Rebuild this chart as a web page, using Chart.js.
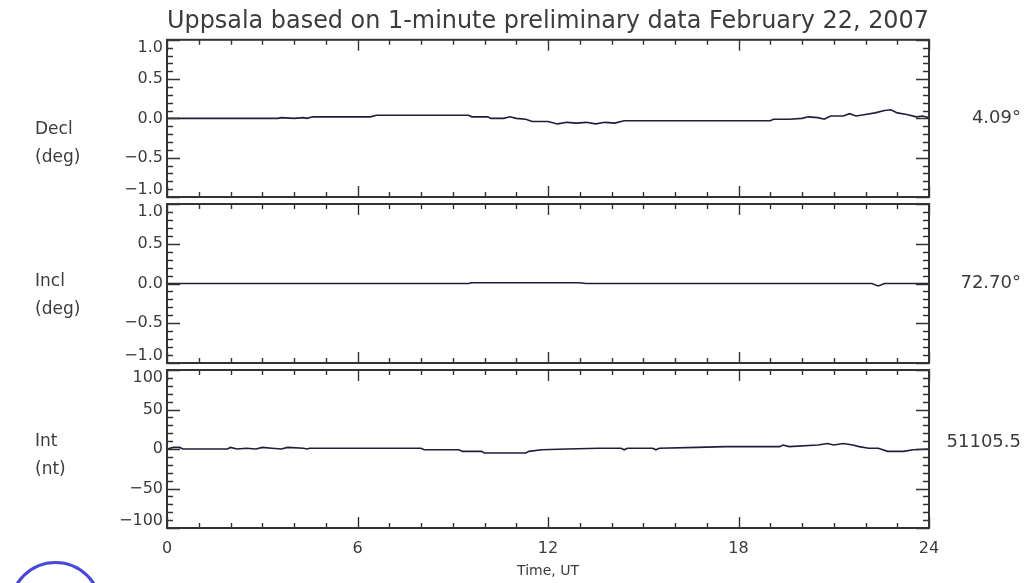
<!DOCTYPE html>
<html>
<head>
<meta charset="utf-8">
<script src="https://cdn.jsdelivr.net/npm/chart.js@4.4.1/dist/chart.umd.min.js"></script>
<style>
  body{margin:0;background:#fff;}
  #wrap{position:relative;width:1029px;height:583px;overflow:hidden;}
  #wrap canvas{position:absolute;left:0;top:0;}
  #logo{position:absolute;left:9px;top:561px;width:93px;height:93px;box-sizing:border-box;border:3px solid #4848d8;border-radius:50%;}
</style>
</head>
<body>
<div id="wrap">
  <canvas id="declChart" width="1029" height="583"></canvas>
  <canvas id="inclChart" width="1029" height="583"></canvas>
  <canvas id="intChart" width="1029" height="583"></canvas>
  <div id="logo"></div>
</div>
<script>
// hours UT
const declTime   = [0, 1, 2, 3, 3.5, 3.6, 4.0, 4.3, 4.4, 4.6, 5, 6, 6.4, 6.6, 7, 8, 9, 9.5, 9.6, 10.1,
                    10.2, 10.6, 10.8, 11.0, 11.3, 11.5, 12.0, 12.3, 12.6, 12.9, 13.2, 13.5, 13.8, 14.1, 14.4,
                    15, 16, 17, 18, 19, 19.1, 19.6, 20.0, 20.2, 20.5, 20.7, 20.9, 21.3, 21.5, 21.7,
                    22.0, 22.3, 22.6, 22.8, 23.0, 23.3, 23.6, 23.8, 24];
const declValues = [0, 0, 0, 0, 0, 0.01, 0, 0.01, 0, 0.02, 0.02, 0.02, 0.02, 0.04, 0.04, 0.04, 0.04, 0.04, 0.02, 0.02,
                    0, 0, 0.02, 0, -0.01, -0.04, -0.04, -0.07, -0.05, -0.06, -0.05, -0.07, -0.05, -0.06, -0.03,
                    -0.03, -0.03, -0.03, -0.03, -0.03, -0.01, -0.01, 0, 0.02, 0.01, -0.01, 0.03, 0.03, 0.06, 0.03,
                    0.05, 0.07, 0.10, 0.11, 0.07, 0.05, 0.02, 0.03, 0.01];

const inclTime   = [0, 9.5, 9.6, 13.0, 13.2, 22.2, 22.4, 22.6, 24];
const inclValues = [0, 0, 0.01, 0.01, 0, 0, -0.03, 0, 0];

const intTime   = [0, 0.2, 0.4, 0.5, 1.9, 2.0, 2.2, 2.5, 2.8, 3.0, 3.3, 3.6, 3.8, 4.3, 4.4, 4.5, 6, 8, 8.1, 9.2,
                   9.3, 9.9, 10.0, 11.3, 11.4, 11.8, 12.6, 13.6, 14.3, 14.4, 14.5, 15.3, 15.4, 15.5, 16.7, 17.6,
                   19.3, 19.4, 19.6, 20.5, 20.8, 21.0, 21.3, 21.6, 21.8, 22.1, 22.4, 22.7, 23.2, 23.5, 24];
const intValues = [0, 2, 2, 0, 0, 2, 0, 1, 0, 2, 1, 0, 2, 1, 0, 1, 1, 1, -1, -1,
                   -3, -3, -5, -5, -3, -1, 0, 1, 1, -1, 1, 1, -1, 1, 2, 3,
                   3, 5, 3, 5, 7, 5, 7, 5, 3, 1, 1, -3, -3, -1, 0];

const xTickLabels = ['0', '6', '12', '18', '24'];
const degTicks = [1.0, 0.5, 0.0, -0.5, -1.0];
const degTickLabels = ['1.0', '0.5', '0.0', '\u22120.5', '\u22121.0'];
const ntTicks = [100, 50, 0, -50, -100];
const ntTickLabels = ['100', '50', '0', '\u221250', '\u2212100'];

const textColor = '#3c3c3c';
const font = 'DejaVu Sans';

// frame, inward tick marks, y labels and side labels
const panelPlugin = {
  id: 'panel',
  afterDatasetsDraw(chart, args, o) {
    const {ctx, chartArea: a, scales: {x, y}} = chart;
    ctx.save();
    ctx.strokeStyle = '#333';
    ctx.lineWidth = 1.4;
    ctx.beginPath();
    for (let h = 0; h <= 24; h++) {
      const px = Math.round(x.getPixelForValue(h)) + 0.5;
      const len = h % 6 === 0 ? 11 : 5;
      ctx.moveTo(px, a.top); ctx.lineTo(px, a.top + len);
      ctx.moveTo(px, a.bottom); ctx.lineTo(px, a.bottom - len);
    }
    const n = Math.round((y.max - y.min) / o.minor);
    for (let i = 0; i <= n; i++) {
      const py = Math.round(y.getPixelForValue(y.min + i * o.minor)) + 0.5;
      const len = i % o.every === 0 ? 13 : 6;
      ctx.moveTo(a.left, py); ctx.lineTo(a.left + len, py);
      ctx.moveTo(a.right, py); ctx.lineTo(a.right - len, py);
    }
    ctx.stroke();
    ctx.lineWidth = 2;
    ctx.strokeRect(a.left, a.top, a.right - a.left, a.bottom - a.top);

    ctx.fillStyle = textColor;
    ctx.font = '16px "' + font + '"';
    ctx.textAlign = 'right';
    ctx.textBaseline = 'middle';
    o.ticks.forEach((v, i) => {
      let py = y.getPixelForValue(v);
      py = Math.min(Math.max(py, a.top + 8), a.bottom - 7);
      ctx.fillText(o.labels[i], a.left - 4, py);
    });
    ctx.font = '17px "' + font + '"';
    ctx.textAlign = 'left';
    ctx.fillText(o.name, 35, o.nameY);
    ctx.fillText(o.unit, 35, o.nameY + 28);
    ctx.font = '18px "' + font + '"';
    ctx.textAlign = 'right';
    ctx.fillText(o.base, 1021, y.getPixelForValue(0) + (o.baseDy || 0));
    ctx.restore();
  }
};

function makePanel(id, times, values, yMin, yMax, padding, panel, showX, title) {
  return new Chart(document.getElementById(id), {
    type: 'line',
    data: {
      datasets: [{
        data: times.map((t, i) => ({x: t, y: values[i]})),
        borderColor: '#1e1e3c',
        borderWidth: 1.6,
        pointRadius: 0,
        tension: 0,
        fill: false
      }]
    },
    options: {
      responsive: false,
      animation: false,
      events: [],
      layout: {padding: padding},
      plugins: {
        legend: {display: false},
        tooltip: {enabled: false},
        title: title ? {
          display: true,
          text: title,
          color: textColor,
          font: {family: font, size: 24, weight: 'normal'},
          padding: {top: 7, bottom: 4}
        } : {display: false},
        panel: panel
      },
      scales: {
        x: {
          type: 'linear', min: 0, max: 24,
          display: showX,
          grid: {display: false, drawTicks: false},
          border: {display: false},
          ticks: {
            stepSize: 6, padding: 11, color: textColor, maxRotation: 0,
            font: {family: font, size: 16},
            callback: (v) => xTickLabels[v / 6]
          },
          title: {display: true, text: 'Time, UT', color: textColor, font: {family: font, size: 14}, padding: {top: 0, bottom: 0}},
          afterFit: (s) => { if (showX) s.height = 52; }
        },
        y: {type: 'linear', min: yMin, max: yMax, display: false}
      }
    },
    plugins: [panelPlugin]
  });
}

makePanel('declChart', declTime, declValues, -1, 1,
  {left: 167, right: 100, top: 0, bottom: 386},
  {minor: 0.1, every: 5, ticks: degTicks, labels: degTickLabels, name: 'Decl', unit: '(deg)', nameY: 130, base: '4.09\u00b0'},
  false, 'Uppsala based on 1-minute preliminary data February 22, 2007');
makePanel('inclChart', inclTime, inclValues, -1, 1,
  {left: 167, right: 100, top: 204, bottom: 220},
  {minor: 0.1, every: 5, ticks: degTicks, labels: degTickLabels, name: 'Incl', unit: '(deg)', nameY: 282, base: '72.70\u00b0'},
  false, null);
makePanel('intChart', intTime, intValues, -100, 100,
  {left: 167, right: 100, top: 370, bottom: 3},
  {minor: 10, every: 5, ticks: ntTicks, labels: ntTickLabels, name: 'Int', unit: '(nt)', nameY: 442, base: '51105.5', baseDy: -7},
  true, null);
</script>
</body>
</html>
